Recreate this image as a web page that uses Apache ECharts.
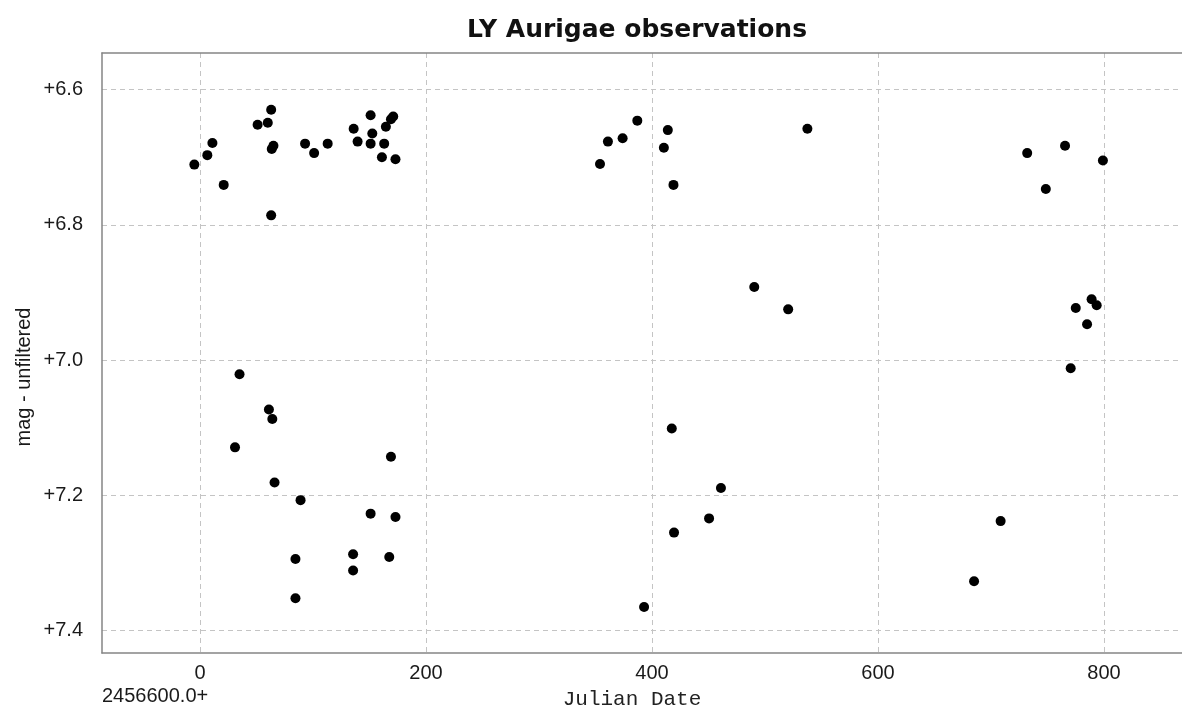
<!DOCTYPE html>
<html>
<head>
<meta charset="utf-8">
<script src="https://cdn.jsdelivr.net/npm/echarts@6/dist/echarts.min.js"></script>
<style>
html,body{margin:0;padding:0;background:#fff;}
#chart{width:1182px;height:707px;}
</style>
</head>
<body>
<div id="chart"></div>
<script>
// Julian Date offsets (JD - 2456600.0)
const jdOffsets = [
  -5, 6.5, 11, 21, 51, 60, 63, 63.5, 65, 63, 93, 101, 113, 136, 139.5, 151, 152.5, 151, 163, 161, 164.5, 169, 171, 173,
  35, 61, 64, 31, 66, 89, 169, 151, 173, 84.5, 135.5, 135.5, 167.5, 84.5,
  354, 361, 374, 387, 414, 410.5, 419, 537.5, 490.5, 520.5,
  393, 417.5, 419.5, 450.5, 461,
  732, 748.5, 765.5, 799, 775, 789, 793.5, 785, 770.5, 708.5, 685
];
// Magnitudes (unfiltered)
const magnitudes = [
  6.711, 6.697, 6.679, 6.741, 6.652, 6.649, 6.630, 6.688, 6.683, 6.786, 6.680, 6.694, 6.680, 6.658, 6.677, 6.638, 6.665, 6.680, 6.680, 6.700, 6.655, 6.644, 6.640, 6.703,
  7.021, 7.073, 7.087, 7.129, 7.181, 7.207, 7.143, 7.227, 7.232, 7.294, 7.287, 7.311, 7.291, 7.352,
  6.710, 6.677, 6.672, 6.646, 6.660, 6.686, 6.741, 6.658, 6.892, 6.925,
  7.365, 7.101, 7.255, 7.234, 7.189,
  6.694, 6.747, 6.683, 6.705, 6.923, 6.910, 6.919, 6.947, 7.012, 7.238, 7.327
];
const xTicks = [0, 200, 400, 600, 800];
const yTicks = [6.6, 6.8, 7.0, 7.2, 7.4];
const titleText = 'LY Aurigae observations';
const xName = 'Julian Date';
const xOffsetLabel = '2456600.0+';
const yName = 'mag - unfiltered';

const points = jdOffsets.map((x, i) => [x, magnitudes[i]]);

const chart = echarts.init(document.getElementById('chart'));
const labelFont = {fontFamily: 'Liberation Sans', fontSize: 20, color: '#1a1a1a'};
const gridLine = {show: true, lineStyle: {color: '#c4c4c4', width: 1, type: [5, 4]}};
const frameLine = {show: true, onZero: false, lineStyle: {color: '#858585', width: 1.5}};

chart.setOption({
  animation: false,
  backgroundColor: '#ffffff',
  title: {
    text: titleText,
    left: 632, top: 13,
    textAlign: 'center',
    textStyle: {fontFamily: 'DejaVu Sans', fontWeight: 'bold', fontSize: 25, color: '#111'}
  },
  grid: {
    left: 102, top: 53, right: 0, bottom: 54,
    show: false,
    containLabel: false
  },
  xAxis: [{
    type: 'value',
    position: 'bottom',
    min: -86.7, max: 869,
    axisLine: frameLine,
    axisTick: {show: false, customValues: xTicks},
    axisLabel: Object.assign({customValues: xTicks, margin: 10, formatter: v => String(Math.round(v))}, labelFont),
    splitLine: gridLine
  }, {
    type: 'value',
    position: 'top',
    min: -86.7, max: 869,
    axisLine: frameLine,
    axisTick: {show: false},
    axisLabel: {show: false},
    splitLine: {show: false}
  }],
  yAxis: {
    type: 'value',
    position: 'left',
    inverse: true,
    min: 6.546, max: 7.433,
    axisLine: frameLine,
    axisTick: {show: false, customValues: yTicks},
    axisLabel: Object.assign({customValues: yTicks, margin: 19, formatter: v => '+' + v.toFixed(1)}, labelFont),
    splitLine: gridLine
  },
  graphic: [
    {type: 'text', left: 102, top: 686, style: {text: xOffsetLabel, font: '20px "Liberation Sans"', fill: '#1a1a1a'}},
    {type: 'text', x: 632, y: 699, style: {text: xName, font: '21px "Liberation Mono"', fill: '#222', align: 'center', verticalAlign: 'middle'}},
    {type: 'text', x: 24, y: 377, rotation: Math.PI / 2, style: {text: yName, font: '20px "Liberation Sans"', fill: '#1a1a1a', align: 'center', verticalAlign: 'middle'}}
  ],
  series: [{
    type: 'scatter',
    xAxisIndex: 0,
    data: points,
    symbol: 'circle',
    symbolSize: 10,
    itemStyle: {color: '#000000', opacity: 1},
    clip: true
  }]
});
</script>
</body>
</html>
